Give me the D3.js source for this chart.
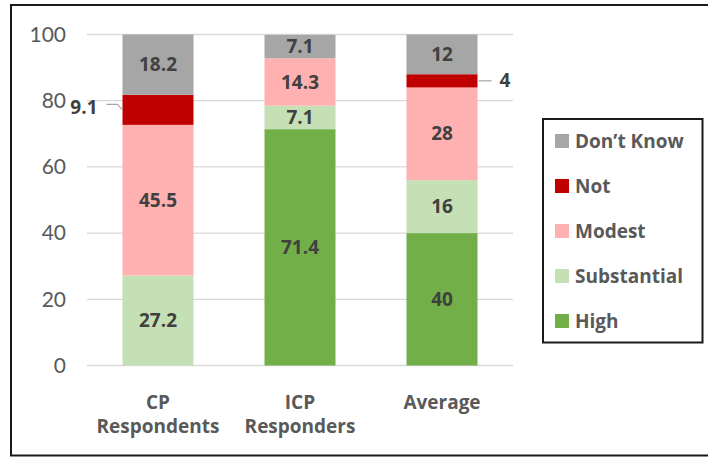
<!DOCTYPE html>
<html><head><meta charset="utf-8">
<script src="https://cdn.jsdelivr.net/npm/d3@7"></script>
<style>body{margin:0;background:#fff}svg{display:block}</style>
</head><body>
<svg id="c" width="708" height="457"></svg>
<script>
const categories = [["CP", "Respondents"], ["ICP", "Responders"], ["Average"]];
const seriesNames = ["High", "Substantial", "Modest", "Not", "Don\u2019t Know"];
const seriesColors = ["#72af48", "#c5e0b4", "#ffb0b0", "#c00000", "#a6a6a6"];
const high = [0, 71.4, 40];
const substantial = [27.2, 7.1, 16];
const modest = [45.5, 14.3, 28];
const not = [9.1, 0, 4];
const dontKnow = [18.2, 7.1, 12];
const yTicks = [0, 20, 40, 60, 80, 100];

const seriesValues = [high, substantial, modest, not, dontKnow];
const svg = d3.select("#c");
const font = "Lato, 'Open Sans', sans-serif";
const bfont = "'Open Sans', Lato, sans-serif";
const bsize = 19;

svg.append("rect").attr("x", 11).attr("y", 5).attr("width", 720).attr("height", 450.5)
  .attr("fill", "none").attr("stroke", "#1a1a1a").attr("stroke-width", 2);

const x = d3.scaleBand().domain(d3.range(categories.length)).range([87, 513]).paddingInner(0.5).paddingOuter(0.25);
const y = d3.scaleLinear().domain([0, 100]).range([365.5, 34.5]);

// gridlines
svg.append("g").selectAll("line").data(yTicks).join("line")
  .attr("x1", 87).attr("x2", 513).attr("y1", d => y(d)).attr("y2", d => y(d))
  .attr("stroke", "#d9d9d9").attr("stroke-width", 1.3);

// y axis
const yAxis = svg.append("g").attr("transform", "translate(66,0)")
  .call(d3.axisLeft(y).tickValues(yTicks).tickSize(0).tickPadding(0));
yAxis.select(".domain").remove();
yAxis.selectAll("text").attr("font-family", font).attr("font-size", 21).attr("fill", "#595959");

// stack
const rows = categories.map((c, i) => {
  const o = {i};
  seriesNames.forEach((s, k) => o[s] = seriesValues[k][i]);
  return o;
});
const stack = d3.stack().keys(seriesNames)(rows);

const g = svg.append("g");
stack.forEach((layer, k) => {
  g.append("g").selectAll("rect").data(layer).join("rect")
    .attr("x", d => x(d.data.i)).attr("width", x.bandwidth())
    .attr("y", d => y(d[1])).attr("height", d => y(d[0]) - y(d[1]))
    .attr("fill", seriesColors[k]);
});

// labels
const fmt = v => String(v);
stack.forEach((layer, k) => {
  layer.forEach(d => {
    const v = d[1] - d[0];
    if (v <= 0) return;
    const val = seriesValues[k][d.data.i];
    const cy = (y(d[0]) + y(d[1])) / 2;
    const cx = x(d.data.i) + x.bandwidth() / 2;
    if (seriesNames[k] === "Not") {
      if (d.data.i === 0) {
        const lx = x(d.data.i);
        svg.append("path").attr("d", `M${lx - 16},${cy - 5.5} L${lx - 5},${cy - 5.5} L${lx},${cy}`)
          .attr("fill", "none").attr("stroke", "#a6a6a6").attr("stroke-width", 1.2);
        svg.append("text").attr("x", lx - 25).attr("y", cy - 2.5).attr("dy", "0.35em")
          .attr("text-anchor", "end").attr("font-family", bfont).attr("font-weight", "bold")
          .attr("font-size", bsize).attr("fill", "#404040").text(fmt(val));
      } else {
        const rx = x(d.data.i) + x.bandwidth();
        svg.append("line").attr("x1", rx + 1).attr("x2", rx + 14).attr("y1", cy).attr("y2", cy)
          .attr("stroke", "#a6a6a6").attr("stroke-width", 1.2);
        svg.append("text").attr("x", rx + 22).attr("y", cy).attr("dy", "0.35em")
          .attr("font-family", bfont).attr("font-weight", "bold")
          .attr("font-size", bsize).attr("fill", "#404040").text(fmt(val));
      }
      return;
    }
    svg.append("text").attr("x", cx).attr("y", cy).attr("dy", "0.35em")
      .attr("text-anchor", "middle").attr("font-family", bfont).attr("font-weight", "bold")
      .attr("font-size", bsize).attr("fill", "#404040").text(fmt(val));
  });
});

// x axis category labels
categories.forEach((lines, i) => {
  const t = svg.append("text").attr("text-anchor", "middle").attr("font-family", bfont)
    .attr("font-weight", "bold").attr("font-size", bsize).attr("fill", "#595959");
  lines.forEach((ln, j) => {
    t.append("tspan").attr("x", x(i) + x.bandwidth() / 2).attr("y", 402 + j * 24).attr("dy", "0.35em").text(ln);
  });
});

// legend
svg.append("rect").attr("x", 543).attr("y", 119).attr("width", 159.5).attr("height", 223.5)
  .attr("fill", "#fff").attr("stroke", "#1a1a1a").attr("stroke-width", 2);
const legOrder = [4, 3, 2, 1, 0];
legOrder.forEach((k, r) => {
  const cy = 141 + r * 45;
  svg.append("rect").attr("x", 555).attr("y", cy - 7).attr("width", 14).attr("height", 14).attr("fill", seriesColors[k]);
  svg.append("text").attr("x", 575).attr("y", cy).attr("dy", "0.35em").attr("font-family", bfont)
    .attr("font-weight", "bold").attr("font-size", bsize).attr("fill", "#595959").text(seriesNames[k]);
});
</script>
</body></html>
